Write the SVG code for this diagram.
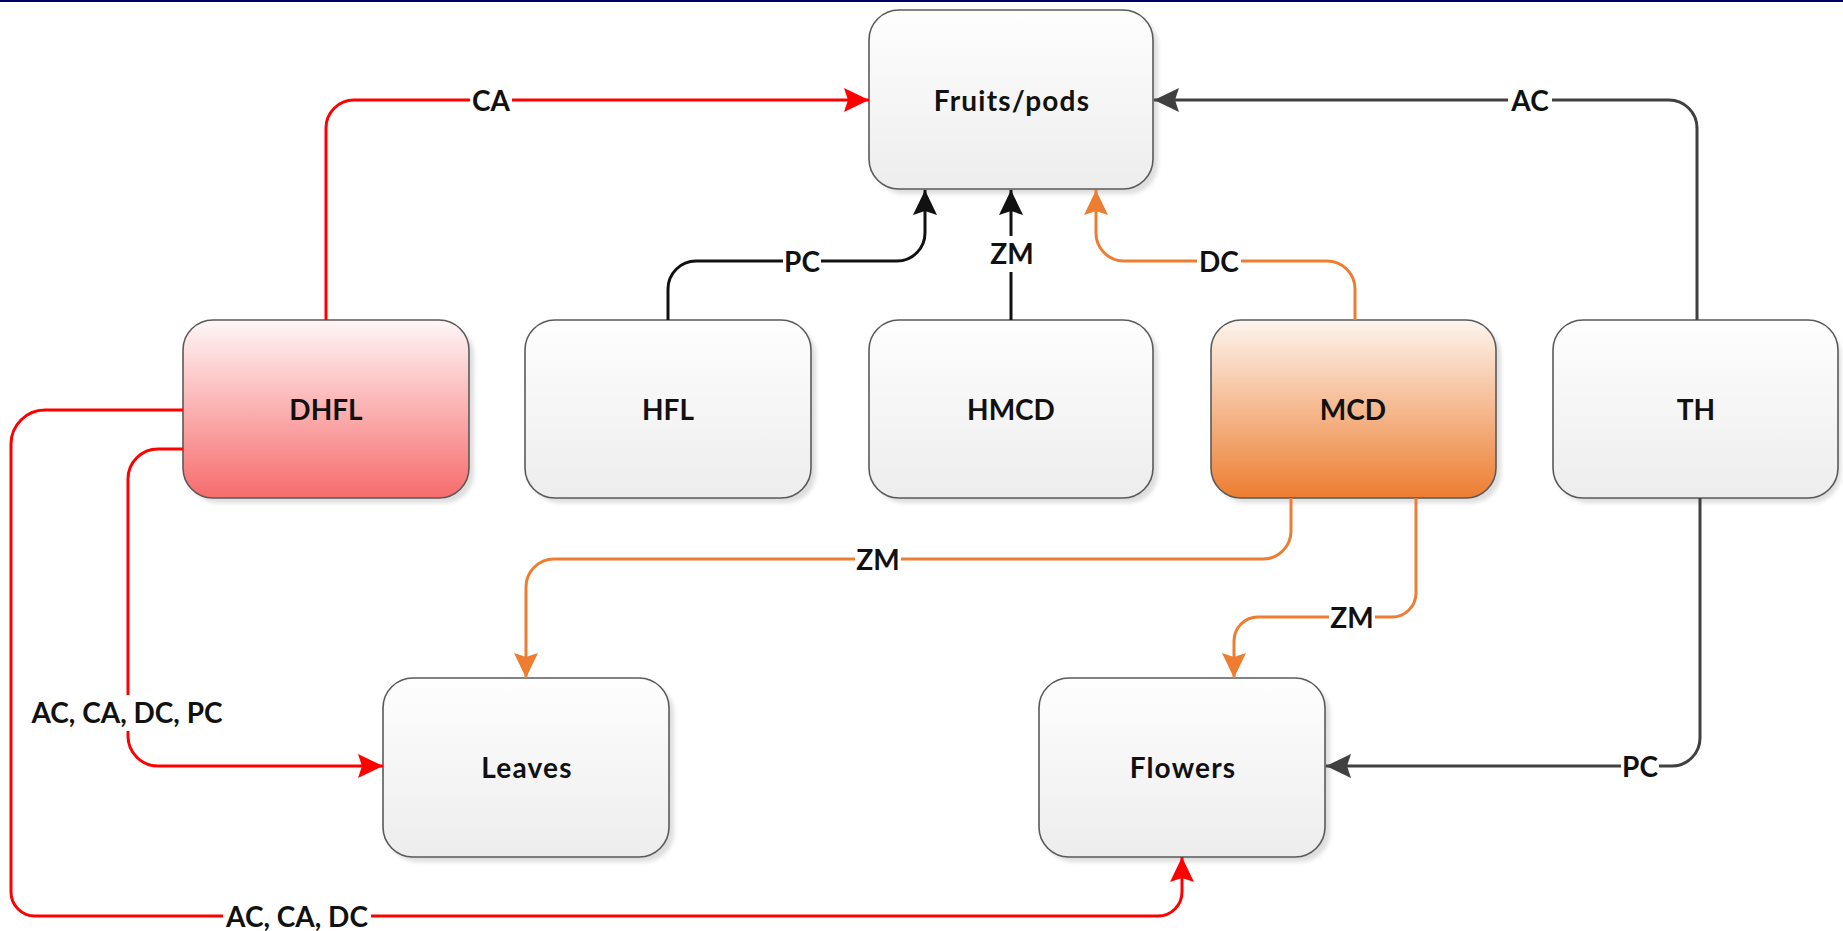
<svg xmlns="http://www.w3.org/2000/svg" width="1843" height="931" viewBox="0 0 1843 931">
<style>
.box{stroke:#5a5a5a;stroke-width:1.6}
.gray{fill:url(#gGray)}
.red{fill:url(#gRed)}
.org{fill:url(#gOrg)}
.shadow{fill:#000;opacity:0.13;filter:url(#blur)}
.nl{font-family:Lato,"Liberation Sans",sans-serif;font-weight:bold;font-size:28px;fill:#111;text-anchor:middle;dominant-baseline:central}
.ls{letter-spacing:1.2px}
.el{font-family:Lato,"Liberation Sans",sans-serif;font-weight:bold;font-size:28px;fill:#111;text-anchor:middle;dominant-baseline:central}
.lb{fill:#ffffff}
.c{fill:none;stroke-width:3}
.cr{stroke:#ff0000}
.cb{stroke:#111111}
.co{stroke:#ed7d31}
.cg{stroke:#404040}
</style>
<defs>
<linearGradient id="gGray" x1="0" y1="0" x2="0" y2="1"><stop offset="0" stop-color="#fefefe"/><stop offset="1" stop-color="#ededed"/></linearGradient>
<linearGradient id="gRed" x1="0" y1="0" x2="0" y2="1"><stop offset="0" stop-color="#fff6f6"/><stop offset="1" stop-color="#f76c6c"/></linearGradient>
<linearGradient id="gOrg" x1="0" y1="0" x2="0" y2="1"><stop offset="0" stop-color="#fdf5ee"/><stop offset="1" stop-color="#ed7d31"/></linearGradient>
<filter id="blur" x="-10%" y="-10%" width="120%" height="120%"><feGaussianBlur stdDeviation="2"/></filter>
<marker id="aR" markerUnits="userSpaceOnUse" markerWidth="26" markerHeight="24" refX="25" refY="12" orient="auto"><path d="M0,0 L25,12 L0,24 L4,12 Z" fill="#ff0000"/></marker>
<marker id="aB" markerUnits="userSpaceOnUse" markerWidth="26" markerHeight="24" refX="25" refY="12" orient="auto"><path d="M0,0 L25,12 L0,24 L4,12 Z" fill="#111111"/></marker>
<marker id="aO" markerUnits="userSpaceOnUse" markerWidth="26" markerHeight="24" refX="25" refY="12" orient="auto"><path d="M0,0 L25,12 L0,24 L4,12 Z" fill="#ed7d31"/></marker>
<marker id="aG" markerUnits="userSpaceOnUse" markerWidth="26" markerHeight="24" refX="25" refY="12" orient="auto"><path d="M0,0 L25,12 L0,24 L4,12 Z" fill="#404040"/></marker>
</defs>
<rect x="0" y="0" width="1843" height="931" fill="#ffffff"/>
<rect x="0" y="0" width="1843" height="2" fill="#000066"/>

<g id="fruits">
<rect class="shadow" x="874" y="15" width="284" height="179" rx="30"/>
<rect class="box gray" x="869" y="10" width="284" height="179" rx="30"/>
<text class="nl ls" x="1012" y="100">Fruits/pods</text>
</g>
<g id="dhfl">
<rect class="shadow" x="188" y="325" width="286" height="178" rx="30"/>
<rect class="box red" x="183" y="320" width="286" height="178" rx="30"/>
<text class="nl" x="326" y="409">DHFL</text>
</g>
<g id="hfl">
<rect class="shadow" x="530" y="325" width="286" height="178" rx="30"/>
<rect class="box gray" x="525" y="320" width="286" height="178" rx="30"/>
<text class="nl" x="668" y="409">HFL</text>
</g>
<g id="hmcd">
<rect class="shadow" x="874" y="325" width="284" height="178" rx="30"/>
<rect class="box gray" x="869" y="320" width="284" height="178" rx="30"/>
<text class="nl" x="1011" y="409">HMCD</text>
</g>
<g id="mcd">
<rect class="shadow" x="1216" y="325" width="285" height="178" rx="30"/>
<rect class="box org" x="1211" y="320" width="285" height="178" rx="30"/>
<text class="nl" x="1353" y="409">MCD</text>
</g>
<g id="th">
<rect class="shadow" x="1558" y="325" width="283" height="178" rx="30"/>
<rect class="box gray" x="1553" y="320" width="285" height="178" rx="30"/>
<text class="nl" x="1696" y="409">TH</text>
</g>
<g id="leaves">
<rect class="shadow" x="388" y="683" width="286" height="179" rx="30"/>
<rect class="box gray" x="383" y="678" width="286" height="179" rx="30"/>
<text class="nl ls" x="527" y="767">Leaves</text>
</g>
<g id="flowers">
<rect class="shadow" x="1044" y="683" width="286" height="179" rx="30"/>
<rect class="box gray" x="1039" y="678" width="286" height="179" rx="30"/>
<text class="nl ls" x="1183" y="767">Flowers</text>
</g>

<g id="connectors">
<path class="c cr" d="M326,320 V128 A28,28 0 0 1 354,100 H869" marker-end="url(#aR)"/>
<path class="c cb" d="M668,320 V289 A28,28 0 0 1 696,261 H897 A28,28 0 0 0 925,233 V190" marker-end="url(#aB)"/>
<path class="c cb" d="M1011,320 V190" marker-end="url(#aB)"/>
<path class="c co" d="M1355,320 V289 A28,28 0 0 0 1327,261 H1124 A28,28 0 0 1 1096,233 V190" marker-end="url(#aO)"/>
<path class="c cg" d="M1697,320 V128 A28,28 0 0 0 1669,100 H1154" marker-end="url(#aG)"/>
<path class="c co" d="M1291,498 V531 A28,28 0 0 1 1263,559 H554 A28,28 0 0 0 526,587 V678" marker-end="url(#aO)"/>
<path class="c co" d="M1416,498 V593 A24,24 0 0 1 1392,617 H1258 A24,24 0 0 0 1234,641 V678" marker-end="url(#aO)"/>
<path class="c cg" d="M1700,498 V738 A28,28 0 0 1 1672,766 H1326" marker-end="url(#aG)"/>
<path class="c cr" d="M183,449 H158 A30,30 0 0 0 128,479 V736 A30,30 0 0 0 158,766 H383" marker-end="url(#aR)"/>
<path class="c cr" d="M183,410 H45 A34,34 0 0 0 11,444 V892 A24,24 0 0 0 35,916 H1158 A24,24 0 0 0 1182,892 V857" marker-end="url(#aR)"/>
<rect class="lb" x="470" y="88" width="42" height="24"/>
<text class="el" x="491" y="100">CA</text>
<rect class="lb" x="783" y="249" width="38" height="24"/>
<text class="el" x="802" y="261">PC</text>
<rect class="lb" x="989" y="236" width="46" height="36"/>
<text class="el" x="1012" y="253">ZM</text>
<rect class="lb" x="1197" y="249" width="44" height="24"/>
<text class="el" x="1219" y="261">DC</text>
<rect class="lb" x="1508" y="88" width="44" height="24"/>
<text class="el" x="1530" y="100">AC</text>
<rect class="lb" x="855" y="547" width="46" height="24"/>
<text class="el" x="878" y="559">ZM</text>
<rect class="lb" x="1329" y="605" width="46" height="24"/>
<text class="el" x="1352" y="617">ZM</text>
<rect class="lb" x="1621" y="754" width="38" height="24"/>
<text class="el" x="1640" y="766">PC</text>
<rect class="lb" x="29" y="695" width="196" height="36"/>
<text class="el" x="127" y="712">AC, CA, DC, PC</text>
<rect class="lb" x="223" y="904" width="148" height="24"/>
<text class="el" x="297" y="916">AC, CA, DC</text>
</g>
</svg>
